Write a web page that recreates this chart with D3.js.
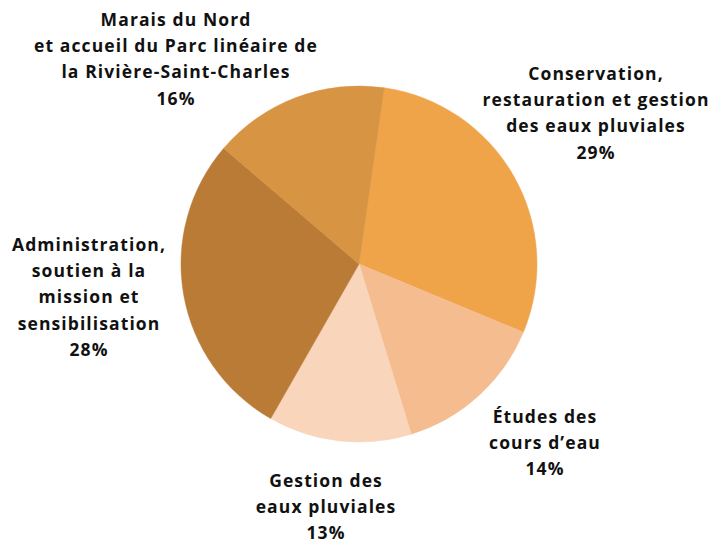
<!DOCTYPE html>
<html>
<head>
<meta charset="utf-8">
<script src="https://cdn.jsdelivr.net/npm/d3@7"></script>
<style>
  body { margin: 0; background: #fff; }
  .lbl { font-family: "Open Sans", sans-serif; font-weight: 700; font-size: 17.5px; letter-spacing: 1.1px; fill: #111; }
</style>
</head>
<body>
<div id="chart"></div>
<script>
// Slice data, clockwise from the top
const categories = [
  "Conservation, restauration et gestion des eaux pluviales",
  "Études des cours d’eau",
  "Gestion des eaux pluviales",
  "Administration, soutien à la mission et sensibilisation",
  "Marais du Nord et accueil du Parc linéaire de la Rivière-Saint-Charles"
];
const shares = [29, 14, 13, 28, 16];
const colors = ["#F0A44A", "#F5BD8F", "#F8D5BB", "#B97B36", "#D79442"];

// Label lines as printed on the chart
const labelLines = [
  ["Conservation,", "restauration et gestion", "des eaux pluviales"],
  ["Études des", "cours d’eau"],
  ["Gestion des", "eaux pluviales"],
  ["Administration,", "soutien à la", "mission et", "sensibilisation"],
  ["Marais du Nord", "et accueil du Parc linéaire de", "la Rivière-Saint-Charles"]
];

const width = 720, height = 544;
const cx = 359, cy = 264, radius = 178;
const lineH = 26.2;

// Label anchor: x centre and first baseline of each block
const labelPos = [
  { x: 596, y: 80 },
  { x: 545, y: 423 },
  { x: 326, y: 486.5 },
  { x: 89, y: 251 },
  { x: 176, y: 26 }
];

const svg = d3.select("#chart").append("svg")
    .attr("width", width)
    .attr("height", height);

const pie = d3.pie()
    .sort(null)
    .startAngle(0.142)
    .endAngle(0.142 + 2 * Math.PI)
    .value(d => d);

const arc = d3.arc().innerRadius(0).outerRadius(radius);

const g = svg.append("g").attr("transform", `translate(${cx},${cy})`);

g.selectAll("path")
  .data(pie(shares))
  .join("path")
    .attr("d", arc)
    .attr("fill", (d, i) => colors[i])
    .attr("stroke", (d, i) => colors[i])
    .attr("stroke-width", 0.5);

// Labels
labelLines.forEach((lines, i) => {
  const t = svg.append("text")
      .attr("class", "lbl")
      .attr("text-anchor", "middle")
      .attr("x", labelPos[i].x)
      .attr("y", labelPos[i].y);
  lines.concat([shares[i] + "%"]).forEach((s, j) => {
    t.append("tspan")
      .attr("x", labelPos[i].x)
      .attr("dy", j === 0 ? 0 : lineH)
      .text(s);
  });
});
</script>
</body>
</html>
